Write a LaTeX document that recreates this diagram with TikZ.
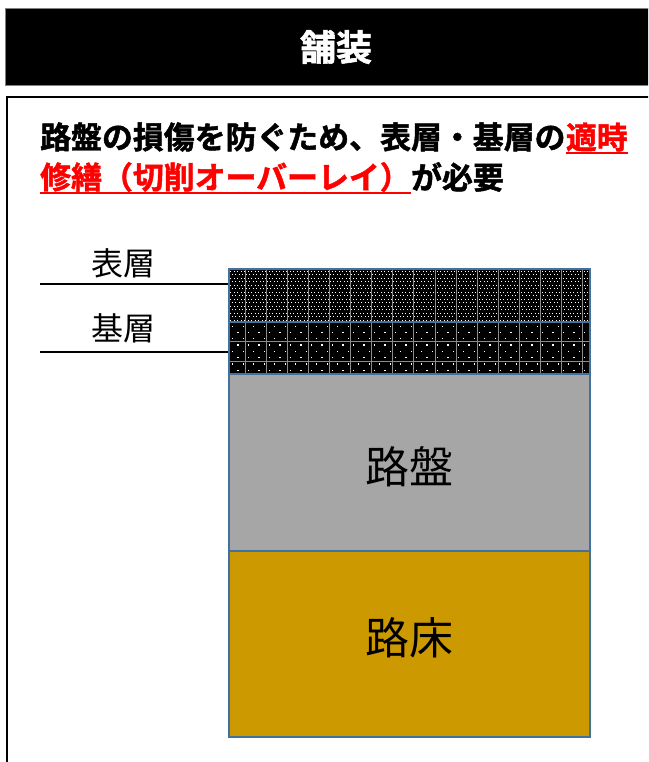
\documentclass[tikz,border=0pt]{standalone}
\usepackage{fontspec}
\usetikzlibrary{patterns}
\newfontfamily\jp{Noto Sans CJK JP}
\newfontfamily\jpb{Noto Sans CJK JP Bold}[FakeBold=1.5]
\definecolor{edgeblue}{HTML}{41719C}
\definecolor{robancol}{HTML}{A6A6A6}
\definecolor{roshocol}{HTML}{CC9900}
\definecolor{gridcol}{HTML}{8C8C8C}
\definecolor{redtxt}{HTML}{FF0000}
\begin{document}
\begin{tikzpicture}[x=1pt,y=-1pt,
  txt/.style={inner sep=0pt, anchor=west, font=\jpb\fontsize{30.9}{36}\selectfont},
  lbl/.style={inner sep=0pt, font=\jp\fontsize{32}{36}\selectfont},
  layer/.style={draw=edgeblue, line width=1.2pt, minimum width=361pt, inner sep=0pt},
  laytxt/.style={inner sep=0pt, font=\jp\fontsize{44}{50}\selectfont},
  leader/.style={line width=1.4pt, black},
  uline/.style={redtxt, line width=2pt}]
\useasboundingbox (0,0) rectangle (648,762);
\clip (0,0) rectangle (648,762);
% header
\node[fill=black, draw=gray, line width=1pt, minimum width=680pt, minimum height=77pt, anchor=north west, inner sep=0pt] (head) at (5,8) {};
\node[text=white, font=\jpb\fontsize{36}{40}\selectfont, inner sep=0pt] (title) at (336,47) {舗装};
% main frame
\node[draw=black, line width=2pt, minimum width=700pt, minimum height=720pt, anchor=north west, inner sep=0pt] (frame) at (6,96) {};
% text
\node[txt] (l1a) at (40,137) {路盤の損傷を防ぐため、表層・基層の};
\node[txt, text=redtxt, anchor=west] (l1b) at (l1a.east) {適時};
\node[txt, text=redtxt] (l2a) at (40,177) {修繕（切削オーバーレイ）};
\node[txt, anchor=west] (l2b) at (l2a.east) {が必要};
\draw[uline] ([yshift=-1pt]l1b.south west) -- ([yshift=-1pt]l1b.south east);
\draw[uline] ([yshift=-1pt]l2a.south west) -- ([yshift=-1pt]l2a.south east);
% layer fills
\fill[black] (229,269) rectangle (590,374);
\foreach \j in {0,...,14}{
  \pgfmathsetmacro{\off}{mod(\j,2)*1.75}
  \foreach \i in {0,...,102}{
    \fill[white] ({230+\off+\i*3.5}, {270.5+\j*3.5}) rectangle ++(0.9,0.9);
  }
}
\foreach \j in {0,...,7}{
  \pgfmathsetmacro{\off}{mod(\j,2)*5.25}
  \foreach \i in {0,...,34}{
    \fill[white] ({232+\off+\i*10.5}, {325.5+\j*6.3}) rectangle ++(1.3,1.3);
  }
}
\foreach \k in {0,...,16}{
  \draw[gridcol, line width=0.8pt] ({245+\k*21.1},269) -- ++(0,105);
}
\draw[gridcol, line width=0.8pt] (229,341) -- (590,341);
\draw[gridcol, line width=0.8pt] (229,361) -- (590,361);
% layers
\node[layer, minimum height=53pt] (hyoso) at (409.5,295.5) {};
\node[layer, minimum height=52pt] (kiso) at (409.5,348) {};
\node[layer, fill=robancol, minimum height=177pt] (roban) at (409.5,462.5) {};
\node[layer, fill=roshocol, minimum height=186pt] (rosho) at (409.5,644) {};
\node[laytxt] (robantxt) at (409,467) {路盤};
\node[laytxt] (roshotxt) at (409,638) {路床};
% labels
\node[lbl] (hyolbl) at (123,263.5) {表層};
\node[lbl] (kilbl) at (123,328.5) {基層};
\coordinate (h0) at (40,284);
\coordinate (k0) at (40,352);
\draw[leader] (h0) -- (h0 -| hyoso.west);
\draw[leader] (k0) -- (k0 -| kiso.west);
\end{tikzpicture}
\end{document}
